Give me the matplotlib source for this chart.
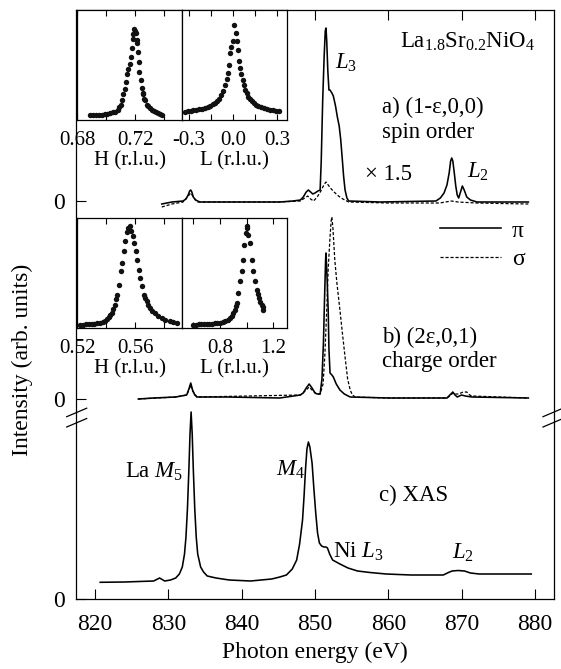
import matplotlib
matplotlib.use("Agg")
import matplotlib.pyplot as plt
from matplotlib.lines import Line2D

plt.rcParams["font.family"] = ["Liberation Serif", "DejaVu Serif"]
plt.rcParams["mathtext.fontset"] = "custom"
plt.rcParams["mathtext.rm"] = "Liberation Serif"
plt.rcParams["mathtext.it"] = "Liberation Serif:italic"

# a) spin order (1-e,0,0), intensity above its own zero
spin_E_pi = [829.1, 830.5, 832.0, 832.4, 832.7, 832.9, 833.05, 833.2, 833.4, 833.7, 834.3,
             838.0, 842.0, 845.2, 847.0, 848.0, 848.4, 848.8, 849.1, 849.4, 849.7, 850.0,
             850.4, 850.7, 850.85, 851.05, 851.25, 851.4, 851.5, 851.6, 851.75, 851.9,
             852.05, 852.3, 852.5, 852.8, 853.05, 853.3, 853.5, 853.7, 853.9, 854.1,
             854.35, 854.6, 858.9, 866.5, 867.1, 867.6, 868.0, 868.3, 868.5, 868.65,
             868.8, 869.0, 869.2, 869.4, 869.6, 869.85, 870.1, 870.35, 870.7, 871.2,
             872.1, 879.1]
spin_I_pi = [-0.03, -0.01, 0.0, 0.02, 0.06, 0.1, 0.11, 0.09, 0.04, 0.01, -0.01,
             -0.01, -0.01, -0.01, 0.0, 0.01, 0.04, 0.09, 0.11, 0.09, 0.07, 0.08,
             0.1, 0.11, 0.4, 1.01, 1.45, 1.7, 1.73, 1.6, 1.3, 1.11,
             1.11, 1.08, 1.05, 0.95, 0.84, 0.75, 0.62, 0.44, 0.25, 0.11,
             0.03, 0.0, -0.01, 0.0, 0.03, 0.08, 0.16, 0.28, 0.4, 0.43,
             0.4, 0.28, 0.15, 0.06, 0.03, 0.09, 0.15, 0.11, 0.04, 0.01,
             -0.01, -0.01]
spin_E_sigma = [829.1, 830.5, 832.0, 832.6, 833.05, 833.5, 834.0, 845.0, 848.0, 848.6, 849.0,
                849.4, 849.8, 850.3, 850.8, 851.2, 851.5, 851.8, 852.1, 852.6, 853.2, 853.8,
                854.6, 860.0, 867.0, 868.6, 869.5, 872.0, 879.1]
spin_I_sigma = [-0.06, -0.03, -0.01, 0.04, 0.08, 0.03, -0.01, -0.01, 0.0, 0.03, 0.05,
                0.02, 0.0, 0.04, 0.1, 0.16, 0.19, 0.16, 0.13, 0.09, 0.05, 0.02,
                -0.01, -0.02, -0.02, 0.0, -0.01, -0.02, -0.03]

# b) charge order (2e,0,1)
charge_E_pi = [825.9, 828.0, 831.0, 832.5, 832.8, 833.05, 833.3, 833.6, 833.9, 838.0, 845.2,
               848.0, 848.4, 848.8, 849.2, 849.6, 850.0, 850.3, 850.7, 850.95, 851.15, 851.3,
               851.45, 851.5, 851.6, 851.7, 851.8, 851.9, 852.05, 852.3, 852.5, 852.9, 853.4,
               854.0, 854.8, 860.0, 868.0, 868.4, 868.8, 869.1, 869.4, 869.7, 870.0, 870.5,
               871.4, 879.1]
charge_I_pi = [0.0, 0.01, 0.02, 0.04, 0.1, 0.16, 0.09, 0.04, 0.02, 0.02, 0.01,
               0.04, 0.06, 0.11, 0.15, 0.11, 0.06, 0.05, 0.05, 0.2, 0.56, 1.0,
               1.4, 1.46, 1.3, 1.1, 0.89, 0.5, 0.26, 0.24, 0.22, 0.15, 0.09,
               0.05, 0.02, 0.01, 0.01, 0.04, 0.07, 0.04, 0.02, 0.03, 0.04, 0.03,
               0.02, 0.01]
charge_E_sigma = [825.9, 831.0, 832.5, 832.8, 833.05, 833.3, 833.9, 848.0, 848.8, 849.2, 849.6,
                  850.2, 850.7, 851.1, 851.35, 851.6, 851.8, 852.05, 852.2, 852.3, 852.45,
                  852.7, 853.0, 853.4, 853.75, 854.1, 854.45, 854.8, 855.1, 855.5, 860.0,
                  868.0, 868.4, 868.8, 869.2, 869.6, 870.2, 870.7, 871.1, 871.4, 879.1]
charge_I_sigma = [0.0, 0.02, 0.04, 0.09, 0.14, 0.08, 0.02, 0.04, 0.09, 0.12, 0.09,
                  0.05, 0.05, 0.15, 0.45, 0.89, 1.3, 1.62, 1.78, 1.82, 1.7,
                  1.39, 1.15, 0.89, 0.65, 0.42, 0.2, 0.09, 0.04, 0.02, 0.01,
                  0.01, 0.03, 0.06, 0.05, 0.05, 0.07, 0.07, 0.04, 0.03, 0.01]

# c) XAS
xas_E = [820.7, 824.0, 828.0, 828.8, 829.5, 830.3, 831.0, 831.5, 831.9, 832.2, 832.4, 832.6,
         832.8, 832.95, 833.1, 833.25, 833.4, 833.6, 833.8, 834.0, 834.4, 834.8, 835.3, 836.5,
         838.3, 841.2, 844.1, 845.2, 846.1, 846.9, 847.5, 847.9, 848.3, 848.5, 848.7, 848.9,
         849.1, 849.3, 849.6, 849.85, 850.1, 850.35, 850.6, 850.9, 851.2, 851.5, 851.7, 852.0,
         852.4, 852.9, 853.4, 854.5, 855.8, 857.5, 859.7, 863.1, 867.5, 868.2, 868.7, 869.5,
         870.4, 871.2, 872.4, 875.3, 879.5]
xas_I = [0.167, 0.17, 0.18, 0.21, 0.18, 0.19, 0.21, 0.25, 0.32, 0.45, 0.62, 0.9,
         1.3, 1.65, 1.87, 1.65, 1.3, 0.9, 0.62, 0.45, 0.32, 0.27, 0.23, 0.21,
         0.19, 0.18, 0.20, 0.22, 0.24, 0.3, 0.39, 0.55, 0.79, 1.02, 1.29, 1.5,
         1.57, 1.52, 1.36, 1.1, 0.86, 0.66, 0.56, 0.53, 0.52, 0.52, 0.51, 0.45,
         0.39, 0.37, 0.35, 0.31, 0.28, 0.265, 0.25, 0.24, 0.24, 0.265, 0.28, 0.285,
         0.28, 0.26, 0.25, 0.25, 0.25]

# inset scans
spin_H = [0.689, 0.691, 0.693, 0.695, 0.697, 0.699, 0.701, 0.703, 0.705, 0.7065, 0.708, 0.709,
          0.710, 0.711, 0.712, 0.713, 0.714, 0.7148, 0.7155, 0.7166, 0.7172, 0.7177, 0.7184,
          0.7188, 0.7195, 0.72, 0.7207, 0.7212, 0.7216, 0.7221, 0.7226, 0.723, 0.724, 0.7246,
          0.7252, 0.7257, 0.7263, 0.7269, 0.728, 0.7292, 0.7305, 0.7318, 0.733, 0.7345,
          0.736, 0.7372, 0.7384]
spin_H_I = [0.0, 0.0, 0.0, 0.003, 0.005, 0.008, 0.012, 0.018, 0.03, 0.04, 0.06, 0.09,
            0.12, 0.17, 0.24, 0.30, 0.38, 0.48, 0.54, 0.60, 0.68, 0.78, 0.89,
            0.95, 1.0, 0.98, 0.96, 0.88, 0.84, 0.74, 0.62, 0.50, 0.41, 0.32,
            0.26, 0.25, 0.19, 0.17, 0.12, 0.10, 0.08, 0.06, 0.045, 0.035,
            0.02, 0.01, 0.0]
spin_L = [-0.33, -0.31, -0.29, -0.27, -0.25, -0.23, -0.21, -0.19, -0.17, -0.155, -0.14, -0.125,
          -0.11, -0.095, -0.08, -0.068, -0.056, -0.045, -0.036, -0.028, -0.021, -0.012, -0.004,
          0.007, 0.02, 0.026, 0.032, 0.04, 0.047, 0.055, 0.063, 0.071, 0.08, 0.091, 0.102,
          0.113, 0.125, 0.14, 0.155, 0.17, 0.19, 0.21, 0.23, 0.25, 0.27, 0.29, 0.31]
spin_L_I = [0.037, 0.041, 0.046, 0.051, 0.056, 0.062, 0.068, 0.078, 0.092, 0.104, 0.118, 0.135,
            0.155, 0.18, 0.22, 0.265, 0.33, 0.40, 0.47, 0.56, 0.69, 0.76, 0.82,
            1.0, 0.91, 0.82, 0.72, 0.6, 0.52, 0.45, 0.39, 0.33, 0.28, 0.24, 0.2,
            0.174, 0.155, 0.13, 0.115, 0.104, 0.088, 0.075, 0.065, 0.056, 0.05, 0.044, 0.039]
charge_H = [0.522, 0.524, 0.526, 0.528, 0.530, 0.532, 0.534, 0.536, 0.538, 0.5395, 0.541, 0.542,
            0.543, 0.544, 0.545, 0.546, 0.547, 0.5474, 0.5488, 0.5501, 0.5513, 0.5524, 0.5533,
            0.5543, 0.5554, 0.5566, 0.5572, 0.5584, 0.5595, 0.5605, 0.5614, 0.5625, 0.5637,
            0.5648, 0.5664, 0.5672, 0.568, 0.569, 0.5703, 0.572, 0.5738, 0.576, 0.5784, 0.581,
            0.5841, 0.5865, 0.5888]
charge_H_I = [0.0, 0.0, 0.003, 0.005, 0.008, 0.01, 0.014, 0.019, 0.028, 0.04, 0.06, 0.075,
              0.095, 0.12, 0.16, 0.2, 0.26, 0.305, 0.407, 0.542, 0.627, 0.746, 0.847,
              0.939, 0.983, 1.0, 0.949, 0.898, 0.831, 0.746, 0.661, 0.559, 0.475,
              0.39, 0.305, 0.27, 0.237, 0.205, 0.169, 0.14, 0.119, 0.092, 0.068, 0.05,
              0.034, 0.025, 0.017]
charge_L = [0.60, 0.62, 0.64, 0.66, 0.68, 0.70, 0.72, 0.74, 0.76, 0.78, 0.80, 0.82, 0.84, 0.86,
            0.875, 0.8875, 0.90, 0.9125, 0.92, 0.93, 0.9375, 0.95, 0.9625, 0.97, 0.9825, 0.9925,
            1.0, 1.005, 1.0125, 1.025, 1.0375, 1.05, 1.0625, 1.075, 1.085, 1.095, 1.104,
            1.1125, 1.12, 1.125]
charge_L_I = [0.0, 0.0, 0.002, 0.003, 0.005, 0.006, 0.007, 0.01, 0.012, 0.015, 0.017, 0.025,
              0.035, 0.05, 0.07, 0.085, 0.115, 0.153, 0.19, 0.22, 0.322, 0.441, 0.542, 0.661,
              0.814, 0.932, 0.983, 1.0, 0.915, 0.83, 0.661, 0.542, 0.441, 0.356, 0.31, 0.271,
              0.235, 0.203, 0.175, 0.153]

spin_zero, charge_zero, xas_zero = 3.98, 2.0, 0.0

W, H = 561, 669


def box(left, top, width, height):
    return [left / W, 1 - (top + height) / H, width / W, height / H]


fig = plt.figure(figsize=(W / 100, H / 100), dpi=100)

ax = fig.add_axes(box(76, 10, 478, 589))
lw = 1.15
dash = (0, (2.5, 1.5))
ax.plot(xas_E, [v + xas_zero for v in xas_I], color="black", lw=lw)
ax.plot(charge_E_pi, [v + charge_zero for v in charge_I_pi], color="black", lw=lw)
ax.plot(charge_E_sigma, [v + charge_zero for v in charge_I_sigma], color="black", lw=0.9, ls=dash)
ax.plot(spin_E_pi, [v + spin_zero for v in spin_I_pi], color="black", lw=lw)
ax.plot(spin_E_sigma, [v + spin_zero for v in spin_I_sigma], color="black", lw=0.9, ls=dash)

ax.set_xlim(817.4, 882.6)
ax.set_ylim(0, 5.89)
ax.set_xticks([820, 830, 840, 850, 860, 870, 880])
ax.set_yticks([xas_zero, charge_zero, spin_zero])
ax.set_yticklabels(["0", "0", "0"])
ax.tick_params(axis="x", direction="in", top=True, length=7, width=0.8, pad=10.5, labelsize=17)
ax.tick_params(axis="y", direction="in", length=7, width=0.8, pad=8, labelsize=17)
for s in ax.spines.values():
    s.set_linewidth(0.9)
ax.set_xlabel("Photon energy (eV)", fontsize=17, labelpad=5)
fig.text(22 / W, 1 - 360 / H, "Intensity (arb. units)", rotation=90, fontsize=17,
         ha="center", va="center")

# legend
pi_line = Line2D([], [], color="black", lw=lw)
sigma_line = Line2D([], [], color="black", lw=0.9, ls=dash)
ax.legend([pi_line, sigma_line], ["π", "σ"], loc="upper left",
          bbox_to_anchor=((440 - 76) / 478, (599 - 220) / 589), frameon=False,
          fontsize=17, handlelength=2.6, handletextpad=0.45, labelspacing=0.3,
          borderpad=0, borderaxespad=0)

fs = 16.5
ax.text(861.6, 5.57, "La$_{1.8}$Sr$_{0.2}$NiO$_4$", fontsize=fs, va="center")
ax.text(852.7, 5.36, "$L_3$", fontsize=fs, va="center")
ax.text(859.2, 4.92, "a) (1-ε,0,0)", fontsize=fs, va="center")
ax.text(859.2, 4.66, "spin order", fontsize=fs, va="center")
ax.text(856.8, 4.24, "× 1.5", fontsize=fs, va="center")
ax.text(870.75, 4.27, "$L_2$", fontsize=fs, va="center")
ax.text(859.2, 2.62, "b) (2ε,0,1)", fontsize=fs, va="center")
ax.text(859.2, 2.37, "charge order", fontsize=fs, va="center")
ax.text(832.0, 1.27, "La $M_5$", fontsize=fs, va="center", ha="right")
ax.text(848.6, 1.29, "$M_4$", fontsize=fs, va="center", ha="right")
ax.text(858.7, 1.04, "c) XAS", fontsize=fs, va="center")
ax.text(852.4, 0.47, "Ni $L_3$", fontsize=fs, va="center")
ax.text(868.7, 0.46, "$L_2$", fontsize=fs, va="center")

# axis break marks
for x0 in (66.7, 543.0):
    for y0 in (416.7, 427.0):
        fig.add_artist(Line2D([x0 / W, (x0 + 20) / W], [1 - y0 / H, 1 - (y0 - 8.5) / H],
                              color="black", lw=0.9, transform=fig.transFigure))


def inset(pos, x, y, xlim, ylim, ticks, labels, xlabel):
    a = fig.add_axes(pos)
    a.plot(x, y, "o", ms=3.9, color="#111111", mec="none")
    a.set_xlim(*xlim)
    a.set_ylim(*ylim)
    a.set_xticks(ticks)
    a.set_xticklabels(labels)
    a.set_yticks([])
    a.tick_params(axis="x", direction="in", top=True, length=4.5, width=0.8, pad=8,
                  labelsize=15)
    for s in a.spines.values():
        s.set_linewidth(0.9)
    a.set_xlabel(xlabel, fontsize=15, labelpad=1)
    return a


inset(box(77, 10, 105, 110), spin_H, spin_H_I, (0.68, 0.7524), (-0.058, 1.225),
      [0.68, 0.70, 0.72, 0.74], ["0.68", "", "0.72", ""], "H (r.l.u.)")
inset(box(182, 10, 105, 110), spin_L, spin_L_I, (-0.348, 0.365), (-0.056, 1.167),
      [-0.3, -0.15, 0.0, 0.15, 0.3], ["-0.3", "", "0.0", "", "0.3"], "L (r.l.u.)")
inset(box(77, 218, 105, 110), charge_H, charge_H_I, (0.52, 0.5924), (-0.034, 1.085),
      [0.52, 0.54, 0.56, 0.58], ["0.52", "", "0.56", ""], "H (r.l.u.)")
inset(box(182, 218, 105, 110), charge_L, charge_L_I, (0.515, 1.303), (-0.034, 1.085),
      [0.6, 0.8, 1.0, 1.2], ["", "0.8", "", "1.2"], "L (r.l.u.)")

fig.savefig("out.png", dpi=100)
